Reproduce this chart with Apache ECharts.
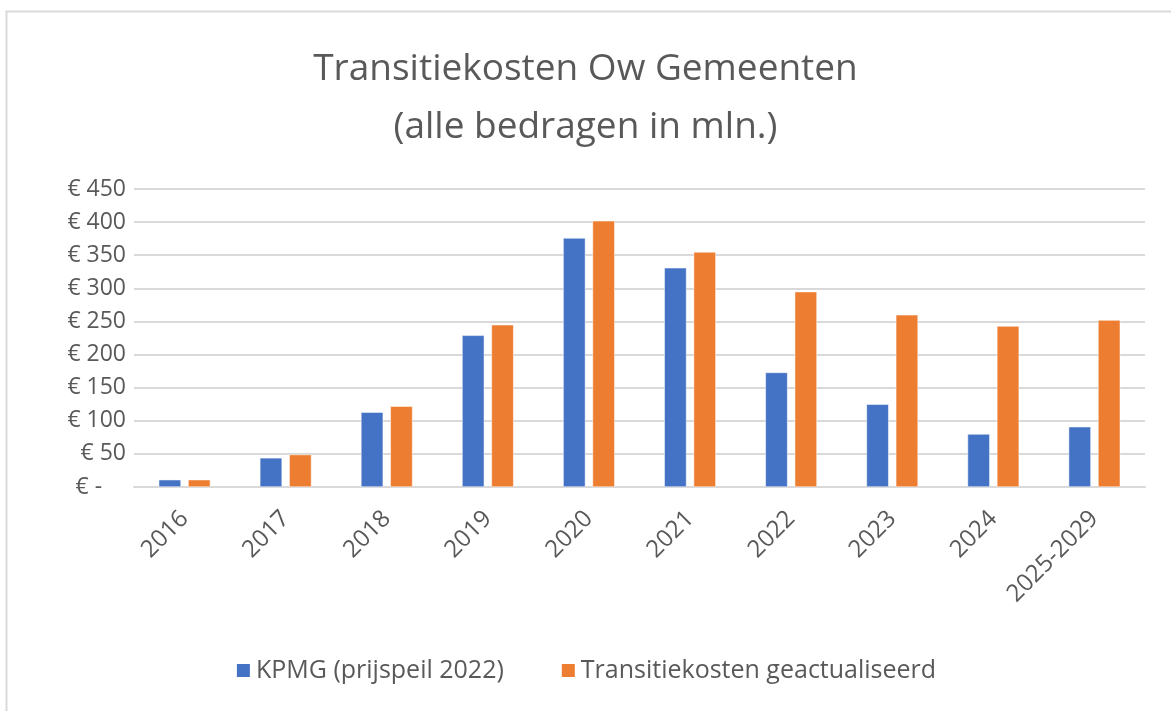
<!DOCTYPE html>
<html>
<head>
<meta charset="utf-8">
<script src="https://cdn.jsdelivr.net/npm/echarts@6/dist/echarts.min.js"></script>
<style>html,body{margin:0;padding:0;background:#fff;}#c{width:1171px;height:711px;}</style>
</head>
<body>
<div id="c"></div>
<script>
const categories = ['2016','2017','2018','2019','2020','2021','2022','2023','2024','2025-2029'];
const kpmg = [11, 44, 113, 229, 376, 331, 173, 125, 80, 91];
const geactualiseerd = [11, 49, 122, 245, 402, 355, 295, 260, 243, 252];
const yTicks = [0, 50, 100, 150, 200, 250, 300, 350, 400, 450];
const seriesNames = ['KPMG (prijspeil 2022)', 'Transitiekosten geactualiseerd'];

const FONT = '"Open Sans", "Liberation Sans", sans-serif';
const chart = echarts.init(document.getElementById('c'));
chart.setOption({
  animation: false,
  backgroundColor: '#fff',
  graphic: [{
    type: 'rect', shape: {x: 6.5, y: 11.5, width: 1200, height: 720},
    style: {fill: 'none', stroke: '#d9d9d9', lineWidth: 2}, silent: true
  }],
  title: {
    text: 'Transitiekosten Ow Gemeenten\n(alle bedragen in mln.)',
    left: 'center', top: 35,
    textStyle: {fontFamily: FONT, fontSize: 37, fontWeight: 'normal', color: '#595959', lineHeight: 58}
  },
  legend: {
    bottom: 23, left: 'center',
    itemWidth: 15, itemHeight: 15, itemGap: 56,
    icon: 'rect',
    textStyle: {fontFamily: FONT, fontSize: 25, color: '#595959'},
    data: seriesNames
  },
  grid: {left: 134, right: 26, top: 189, bottom: 224, containLabel: false},
  xAxis: {
    type: 'category', data: categories,
    axisLine: {lineStyle: {color: '#d9d9d9', width: 2}},
    axisTick: {show: false},
    axisLabel: {rotate: 45, fontFamily: FONT, fontSize: 24, color: '#595959', margin: 28, interval: 0}
  },
  yAxis: {
    type: 'value', min: 0, max: 450, interval: 50,
    axisLine: {show: false}, axisTick: {show: false},
    splitLine: {lineStyle: {color: '#d9d9d9', width: 2}},
    axisLabel: {
      fontFamily: FONT, fontSize: 23, color: '#595959', margin: 8,
      formatter: v => yTicks.includes(v) ? (v === 0 ? '€ -    ' : '€ ' + v) : ''
    }
  },
  series: [
    {name: seriesNames[0], type: 'bar', data: kpmg, barWidth: '22%', barGap: '32%',
     itemStyle: {color: '#4472c4', borderColor: '#fff', borderWidth: 0.5}},
    {name: seriesNames[1], type: 'bar', data: geactualiseerd, barWidth: '22%',
     itemStyle: {color: '#ed7d31', borderColor: '#fff', borderWidth: 0.5}}
  ]
});
</script>
</body>
</html>
